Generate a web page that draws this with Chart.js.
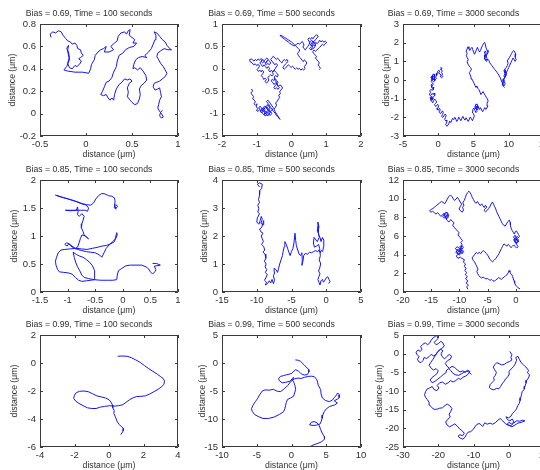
<!DOCTYPE html>
<html>
<head>
<meta charset="utf-8">
<script src="https://cdn.jsdelivr.net/npm/chart.js@4.4.1/dist/chart.umd.min.js"></script>
<style>
  body { margin: 0; background: #fff; width: 540px; height: 470px; overflow: hidden; position: relative; }
  canvas { position: absolute; }
</style>
</head>
<body>
<script>
// Panel titles: rows are bias, columns are time
const biases = [0.69, 0.85, 0.99];
const times = [100, 500, 3000];

// Tick labels for each panel (row by row)
const xTicks = [
  [-0.5, 0, 0.5, 1], [-2, -1, 0, 1, 2], [-5, 0, 5, 10, 15],
  [-1.5, -1, -0.5, 0, 0.5, 1], [-15, -10, -5, 0, 5], [-20, -15, -10, -5, 0, 5],
  [-4, -2, 0, 2, 4], [-10, -5, 0, 5, 10], [-30, -20, -10, 0, 10]
];
const yTicks = [
  [-0.2, 0, 0.2, 0.4, 0.6, 0.8], [-1.5, -1, -0.5, 0, 0.5, 1], [-3, -2, -1, 0, 1, 2, 3],
  [0, 0.5, 1, 1.5, 2], [0, 1, 2, 3, 4], [0, 2, 4, 6, 8, 10, 12],
  [-6, -4, -2, 0, 2], [-15, -10, -5, 0, 5], [-25, -20, -15, -10, -5, 0, 5]
];

// Walks, [x, y] in µm
const walk069_100 = [[-0.38,0.68],[-0.39,0.71],[-0.36,0.73],[-0.33,0.72],[-0.30,0.74],[-0.27,0.73],[-0.25,0.70],[-0.22,0.67],[-0.20,0.65],[-0.17,0.64],[-0.15,0.62],[-0.12,0.63],[-0.10,0.61],[-0.09,0.58],[-0.06,0.57],[-0.05,0.54],[-0.03,0.52],[-0.06,0.50],[-0.08,0.49],[-0.05,0.47],[-0.07,0.44],[-0.10,0.42],[-0.12,0.43],[-0.15,0.40],[-0.18,0.41],[-0.20,0.45],[-0.18,0.50],[-0.19,0.55],[-0.21,0.58],[-0.19,0.61],[-0.20,0.56],[-0.18,0.48],[-0.21,0.42],[-0.24,0.39],[-0.20,0.38],[-0.12,0.37],[-0.04,0.37],[0.03,0.36],[0.05,0.40],[0.06,0.44],[0.09,0.48],[0.10,0.52],[0.13,0.55],[0.16,0.57],[0.19,0.58],[0.22,0.60],[0.20,0.55],[0.25,0.55],[0.30,0.57],[0.27,0.60],[0.31,0.63],[0.34,0.65],[0.35,0.69],[0.38,0.72],[0.42,0.73],[0.44,0.71],[0.46,0.74],[0.48,0.75],[0.47,0.70],[0.50,0.68],[0.53,0.66],[0.51,0.63],[0.55,0.63],[0.52,0.60],[0.47,0.59],[0.43,0.57],[0.40,0.54],[0.36,0.52],[0.34,0.47],[0.33,0.42],[0.30,0.37],[0.28,0.32],[0.25,0.29],[0.22,0.28],[0.20,0.24],[0.18,0.20],[0.16,0.17],[0.19,0.16],[0.22,0.17],[0.24,0.14],[0.26,0.12],[0.28,0.14],[0.30,0.12],[0.31,0.17],[0.33,0.22],[0.36,0.26],[0.39,0.28],[0.42,0.31],[0.45,0.30],[0.48,0.31],[0.50,0.29],[0.47,0.27],[0.45,0.23],[0.46,0.19],[0.45,0.15],[0.48,0.12],[0.50,0.10],[0.53,0.08],[0.56,0.09],[0.58,0.13],[0.59,0.17],[0.58,0.22],[0.60,0.25],[0.63,0.27],[0.66,0.30],[0.65,0.34],[0.62,0.38],[0.59,0.41],[0.56,0.39],[0.53,0.41],[0.51,0.40],[0.52,0.44],[0.54,0.48],[0.57,0.50],[0.61,0.51],[0.66,0.50],[0.64,0.52],[0.68,0.55],[0.71,0.58],[0.73,0.62],[0.75,0.66],[0.76,0.70],[0.74,0.73],[0.77,0.72],[0.80,0.69],[0.83,0.66],[0.86,0.64],[0.88,0.61],[0.91,0.58],[0.93,0.57],[0.89,0.57],[0.85,0.58],[0.81,0.56],[0.78,0.54],[0.77,0.51],[0.79,0.48],[0.81,0.45],[0.84,0.42],[0.86,0.39],[0.88,0.36],[0.86,0.33],[0.83,0.31],[0.80,0.29],[0.77,0.28],[0.74,0.27],[0.73,0.24],[0.75,0.21],[0.78,0.22],[0.80,0.23],[0.81,0.19],[0.82,0.15],[0.80,0.12],[0.79,0.08],[0.78,0.05],[0.80,0.02],[0.82,0.00],[0.84,-0.03],[0.82,-0.04],[0.80,-0.02],[0.81,0.01],[0.83,0.03]];

const walk069_500 = [[-1.15,-0.45],[-1.12,-0.50],[-1.17,-0.54],[-1.13,-0.58],[-1.09,-0.62],[-1.12,-0.67],[-1.07,-0.70],[-1.04,-0.74],[-1.08,-0.78],[-1.03,-0.81],[-0.99,-0.78],[-1.01,-0.85],[-0.97,-0.89],[-1.01,-0.93],[-0.96,-0.95],[-0.92,-0.91],[-0.94,-0.86],[-0.89,-0.84],[-0.86,-0.89],[-0.90,-0.94],[-0.87,-0.98],[-0.82,-0.96],[-0.84,-0.91],[-0.80,-0.87],[-0.76,-0.90],[-0.79,-0.95],[-0.75,-0.99],[-0.79,-1.03],[-0.74,-1.05],[-0.70,-1.01],[-0.72,-0.96],[-0.67,-0.93],[-0.70,-0.88],[-0.74,-0.84],[-0.78,-0.88],[-0.82,-0.92],[-0.78,-0.97],[-0.73,-0.95],[-0.69,-0.99],[-0.65,-0.95],[-0.69,-0.91],[-0.73,-0.87],[-0.77,-0.83],[-0.81,-0.86],[-0.85,-0.90],[-0.88,-0.95],[-0.84,-0.99],[-0.80,-1.02],[-0.76,-0.98],[-0.72,-1.03],[-0.68,-1.05],[-0.64,-1.00],[-0.60,-0.97],[-0.63,-0.93],[-0.67,-0.89],[-0.71,-0.85],[-0.70,-0.80],[-0.65,-0.83],[-0.62,-0.88],[-0.66,-0.92],[-0.62,-0.97],[-0.66,-1.01],[-0.61,-1.04],[-0.57,-1.00],[-0.60,-0.95],[-0.56,-0.91],[-0.60,-0.86],[-0.64,-0.81],[-0.68,-0.77],[-0.72,-0.73],[-0.68,-0.70],[-0.64,-0.74],[-0.60,-0.78],[-0.56,-0.83],[-0.52,-0.87],[-0.55,-0.92],[-0.51,-0.96],[-0.47,-0.99],[-0.44,-1.04],[-0.40,-1.07],[-0.36,-1.10],[-0.33,-1.13],[-0.37,-1.08],[-0.42,-1.02],[-0.47,-0.96],[-0.50,-0.90],[-0.46,-0.86],[-0.43,-0.81],[-0.46,-0.76],[-0.41,-0.73],[-0.38,-0.68],[-0.34,-0.64],[-0.37,-0.59],[-0.32,-0.56],[-0.34,-0.51],[-0.30,-0.47],[-0.26,-0.43],[-0.29,-0.38],[-0.34,-0.36],[-0.38,-0.40],[-0.42,-0.35],[-0.46,-0.31],[-0.50,-0.35],[-0.54,-0.31],[-0.58,-0.27],[-0.55,-0.23],[-0.51,-0.26],[-0.47,-0.22],[-0.43,-0.26],[-0.39,-0.30],[-0.43,-0.34],[-0.47,-0.38],[-0.51,-0.42],[-0.47,-0.45],[-0.43,-0.42],[-0.39,-0.46],[-0.35,-0.42],[-0.39,-0.38],[-0.43,-0.30],[-0.47,-0.26],[-0.50,-0.18],[-0.45,-0.15],[-0.41,-0.18],[-0.38,-0.14],[-0.42,-0.10],[-0.46,-0.07],[-0.50,-0.03],[-0.54,-0.07],[-0.58,-0.03],[-0.62,-0.07],[-0.66,-0.03],[-0.63,0.01],[-0.67,0.05],[-0.71,0.01],[-0.75,0.05],[-0.79,0.09],[-0.83,0.05],[-0.87,0.09],[-0.91,0.13],[-0.87,0.17],[-0.83,0.21],[-0.79,0.18],[-0.75,0.21],[-0.71,0.24],[-0.67,0.21],[-0.71,0.17],[-0.75,0.10],[-0.72,0.09],[-0.68,0.12],[-0.64,0.09],[-0.60,0.13],[-0.63,0.17],[-0.67,0.20],[-0.71,0.16],[-0.75,0.13],[-0.79,0.17],[-0.83,0.13],[-0.87,0.16],[-0.84,0.20],[-0.88,0.23],[-0.92,0.19],[-0.96,0.22],[-1.00,0.18],[-1.04,0.21],[-1.08,0.17],[-1.12,0.20],[-1.16,0.22],[-1.21,0.20],[-1.18,0.15],[-1.13,0.13],[-1.09,0.09],[-1.04,0.11],[-1.00,0.07],[-0.96,0.10],[-0.92,0.06],[-0.95,0.02],[-0.99,-0.02],[-0.95,-0.06],[-0.91,-0.03],[-0.87,-0.07],[-0.84,-0.03],[-0.80,-0.07],[-0.83,-0.11],[-0.87,-0.15],[-0.83,-0.19],[-0.80,-0.24],[-0.76,-0.21],[-0.72,-0.24],[-0.76,-0.28],[-0.72,-0.32],[-0.68,-0.29],[-0.65,-0.25],[-0.68,-0.20],[-0.64,-0.16],[-0.60,-0.13],[-0.56,-0.16],[-0.52,-0.12],[-0.55,-0.08],[-0.51,-0.04],[-0.47,0.00],[-0.44,0.04],[-0.40,0.08],[-0.44,0.12],[-0.48,0.09],[-0.52,0.13],[-0.56,0.17],[-0.60,0.21],[-0.56,0.25],[-0.52,0.28],[-0.48,0.24],[-0.44,0.21],[-0.40,0.24],[-0.36,0.20],[-0.32,0.16],[-0.28,0.13],[-0.25,0.17],[-0.21,0.21],[-0.17,0.18],[-0.13,0.21],[-0.10,0.17],[-0.14,0.13],[-0.18,0.10],[-0.22,0.06],[-0.25,0.02],[-0.21,-0.01],[-0.17,0.02],[-0.13,0.05],[-0.09,0.09],[-0.05,0.06],[-0.01,0.03],[0.03,0.06],[0.07,0.02],[0.11,-0.01],[0.15,0.02],[0.19,-0.01],[0.23,0.01],[0.27,-0.03],[0.31,0.00],[0.35,-0.03],[0.39,0.01],[0.37,0.05],[0.41,0.09],[0.44,0.13],[0.41,0.17],[0.37,0.20],[0.34,0.16],[0.30,0.19],[0.27,0.23],[0.23,0.26],[0.20,0.30],[0.17,0.34],[0.21,0.38],[0.24,0.42],[0.20,0.45],[0.16,0.48],[0.12,0.51],[0.08,0.54],[0.04,0.57],[0.00,0.60],[-0.04,0.62],[-0.08,0.64],[-0.12,0.66],[-0.16,0.68],[-0.20,0.70],[-0.24,0.72],[-0.28,0.74],[-0.33,0.75],[-0.29,0.71],[-0.25,0.69],[-0.21,0.67],[-0.17,0.64],[-0.13,0.62],[-0.09,0.60],[-0.05,0.57],[-0.01,0.55],[0.03,0.53],[0.07,0.51],[0.11,0.53],[0.15,0.55],[0.19,0.57],[0.23,0.55],[0.27,0.58],[0.31,0.61],[0.34,0.57],[0.36,0.53],[0.33,0.49],[0.36,0.45],[0.40,0.42],[0.43,0.46],[0.47,0.50],[0.50,0.54],[0.53,0.58],[0.50,0.62],[0.47,0.66],[0.51,0.69],[0.55,0.66],[0.58,0.70],[0.62,0.67],[0.65,0.71],[0.69,0.74],[0.73,0.76],[0.77,0.73],[0.74,0.69],[0.70,0.66],[0.66,0.62],[0.62,0.59],[0.58,0.55],[0.62,0.52],[0.58,0.50],[0.55,0.54],[0.51,0.57],[0.54,0.61],[0.58,0.64],[0.61,0.60],[0.65,0.57],[0.62,0.54],[0.66,0.51],[0.69,0.55],[0.66,0.59],[0.62,0.62],[0.59,0.58],[0.55,0.55],[0.58,0.51],[0.62,0.48],[0.59,0.45],[0.55,0.48],[0.52,0.45],[0.56,0.42],[0.60,0.44],[0.63,0.45],[0.67,0.49],[0.70,0.53],[0.66,0.56],[0.70,0.59],[0.74,0.56],[0.78,0.60],[0.81,0.64],[0.85,0.60],[0.89,0.63],[0.93,0.59],[0.97,0.62],[1.01,0.59],[0.97,0.55],[0.93,0.52],[0.89,0.55],[0.85,0.51],[0.81,0.48],[0.77,0.45],[0.73,0.42],[0.69,0.39],[0.65,0.42],[0.61,0.38],[0.64,0.34],[0.68,0.31],[0.72,0.28],[0.69,0.24],[0.73,0.20],[0.77,0.17],[0.80,0.13],[0.77,0.09],[0.80,0.05],[0.83,0.01],[0.80,-0.02]];

const walk069_3000 = [[0.35,0.70],[0.50,0.62],[0.40,0.55],[0.58,0.48],[0.45,0.40],[0.62,0.32],[0.50,0.25],[0.66,0.18],[0.48,0.12],[0.30,0.18],[0.38,0.28],[0.20,0.32],[0.08,0.42],[0.22,0.48],[0.05,0.52],[-0.10,0.45],[-0.02,0.35],[-0.18,0.30],[-0.30,0.38],[-0.22,0.22],[-0.38,0.15],[-0.25,0.08],[-0.42,0.02],[-0.58,0.08],[-0.50,-0.05],[-0.68,-0.10],[-0.82,-0.02],[-0.95,0.08],[-1.05,0.15],[-0.90,0.22],[-0.78,0.15],[-0.65,0.22],[-0.52,0.15],[-0.62,0.05],[-0.75,0.00],[-0.88,0.10],[-0.75,0.28],[-0.60,0.32],[-0.48,0.25],[-0.55,0.12],[-0.70,0.08],[-0.82,0.18],[-0.88,0.02],[-1.00,-0.08],[-0.85,-0.15],[-0.70,-0.22],[-0.85,-0.30],[-1.00,-0.25],[-0.92,-0.40],[-0.75,-0.45],[-0.62,-0.38],[-0.70,-0.52],[-0.88,-0.55],[-1.05,-0.50],[-1.20,-0.58],[-1.08,-0.68],[-1.25,-0.75],[-1.12,-0.85],[-0.98,-0.80],[-0.85,-0.72],[-0.72,-0.78],[-0.60,-0.70],[-0.50,-0.82],[-0.65,-0.90],[-0.80,-0.95],[-0.95,-1.00],[-0.82,-1.05],[-0.70,-0.98],[-0.85,-0.90],[-1.00,-0.88],[-1.15,-0.95],[-1.05,-1.05],[-0.90,-1.10],[-0.78,-1.02],[-0.90,-0.95],[-1.02,-0.92],[-0.95,-1.00],[-1.08,-1.08],[-0.92,-1.15],[-0.78,-1.22],[-0.65,-1.10],[-0.50,-1.02],[-0.35,-1.10],[-0.22,-1.18],[-0.38,-1.25],[-0.52,-1.32],[-0.38,-1.42],[-0.22,-1.38],[-0.08,-1.30],[0.05,-1.38],[-0.05,-1.50],[-0.15,-1.58],[0.02,-1.62],[0.18,-1.52],[0.28,-1.60],[0.15,-1.70],[0.30,-1.80],[0.45,-1.75],[0.58,-1.65],[0.72,-1.72],[0.60,-1.85],[0.48,-1.95],[0.65,-2.00],[0.82,-1.92],[0.98,-1.82],[1.12,-1.90],[1.00,-2.02],[0.92,-2.12],[1.08,-2.20],[1.25,-2.15],[1.18,-2.30],[1.05,-2.38],[1.22,-2.48],[1.38,-2.42],[1.52,-2.32],[1.62,-2.20],[1.78,-2.28],[1.92,-2.15],[2.05,-2.05],[2.20,-2.12],[2.35,-2.00],[2.50,-2.10],[2.62,-2.22],[2.78,-2.12],[2.90,-1.98],[3.05,-2.08],[3.20,-2.18],[3.35,-2.05],[3.50,-1.95],[3.65,-2.08],[3.80,-2.15],[3.95,-2.02],[4.10,-2.12],[4.25,-2.22],[4.40,-2.10],[4.55,-1.98],[4.70,-2.08],[4.85,-2.18],[5.00,-2.05],[5.12,-1.92],[4.98,-1.80],[4.82,-1.72],[4.90,-1.58],[5.05,-1.50],[5.20,-1.62],[5.35,-1.75],[5.50,-1.68],[5.40,-1.52],[5.55,-1.60],[5.70,-1.50],[5.58,-1.38],[5.42,-1.45],[5.30,-1.55],[5.18,-1.45],[5.32,-1.35],[5.48,-1.28],[5.62,-1.40],[5.50,-1.52],[5.40,-1.52],[5.25,-1.40],[5.38,-1.28],[5.55,-1.35],[5.70,-1.45],[5.85,-1.58],[6.00,-1.48],[6.15,-1.62],[6.30,-1.70],[6.45,-1.58],[6.60,-1.48],[6.75,-1.58],[6.90,-1.50],[7.05,-1.38],[6.92,-1.25],[7.08,-1.12],[6.95,-1.00],[6.80,-0.92],[6.65,-0.82],[6.50,-0.72],[6.35,-0.62],[6.20,-0.70],[6.05,-0.78],[5.92,-0.65],[5.78,-0.52],[5.62,-0.45],[5.48,-0.32],[5.35,-0.40],[5.20,-0.28],[5.05,-0.15],[4.92,-0.05],[4.78,0.05],[4.65,0.15],[4.52,0.28],[4.42,0.40],[4.58,0.48],[4.72,0.58],[4.55,0.68],[4.38,0.75],[4.22,0.85],[4.10,0.98],[4.25,1.08],[4.12,1.20],[3.98,1.30],[4.10,1.42],[3.95,1.55],[4.08,1.65],[4.22,1.78],[4.35,1.68],[4.48,1.58],[4.62,1.68],[4.78,1.75],[4.90,1.62],[5.02,1.48],[5.15,1.38],[5.28,1.50],[5.42,1.62],[5.55,1.75],[5.70,1.62],[5.85,1.50],[6.00,1.58],[6.12,1.72],[6.28,1.85],[6.42,1.95],[6.58,2.02],[6.70,1.88],[6.78,1.72],[6.92,1.60],[7.05,1.48],[6.90,1.35],[6.75,1.25],[6.62,1.35],[6.50,1.25],[6.62,1.12],[6.78,1.05],[6.92,1.15],[6.80,1.28],[6.65,1.40],[6.52,1.50],[6.68,1.55],[6.82,1.42],[6.75,1.25],[6.60,1.18],[6.72,1.05],[6.88,1.00],[7.02,1.12],[7.18,1.05],[7.30,0.92],[7.45,0.85],[7.60,0.78],[7.75,0.70],[7.90,0.62],[8.05,0.55],[8.20,0.48],[8.35,0.40],[8.50,0.32],[8.65,0.22],[8.80,0.12],[8.92,0.00],[9.05,-0.12],[9.18,-0.25],[9.32,-0.32],[9.48,-0.22],[9.40,-0.08],[9.28,0.05],[9.42,0.15],[9.58,0.25],[9.45,0.38],[9.58,0.45],[9.70,0.35],[9.58,0.22],[9.45,0.12],[9.32,0.22],[9.45,0.32],[9.60,0.40],[9.52,0.55],[9.38,0.48],[9.45,0.38],[9.32,0.50],[9.48,0.60],[9.65,0.68],[9.80,0.78],[9.92,0.90],[9.80,1.02],[9.95,1.12],[10.10,1.20],[10.25,1.32],[10.40,1.42],[10.55,1.52],[10.70,1.58],[10.85,1.50],[11.00,1.38],[10.92,1.22],[11.05,1.08],[10.90,1.00],[10.75,1.10],[10.60,1.18],[10.45,1.05],[10.30,0.92],[10.15,0.80],[10.00,0.68],[9.85,0.55],[9.70,0.42],[9.58,0.30],[9.45,0.18],[9.32,0.05],[9.20,-0.10],[9.08,-0.25],[9.25,-0.35],[9.42,-0.40]];

const walk085_100 = [[-0.12,1.50],[-0.09,1.53],[-0.13,1.56],[-0.16,1.51],[-0.12,1.48],[-0.15,1.55],[-0.14,1.62],[-0.15,1.68],[-0.20,1.71],[-0.26,1.72],[-0.32,1.75],[-0.38,1.76],[-0.44,1.72],[-0.49,1.66],[-0.53,1.59],[-0.58,1.55],[-0.66,1.56],[-0.74,1.58],[-0.82,1.61],[-0.92,1.64],[-1.02,1.67],[-1.12,1.70],[-1.22,1.73],[-1.10,1.69],[-0.98,1.66],[-0.86,1.62],[-0.76,1.58],[-0.66,1.55],[-0.62,1.50],[-0.64,1.44],[-0.68,1.46],[-0.76,1.46],[-0.86,1.46],[-0.96,1.46],[-1.04,1.46],[-0.94,1.45],[-0.84,1.46],[-0.82,1.52],[-0.81,1.44],[-0.82,1.38],[-0.79,1.35],[-0.74,1.40],[-0.70,1.35],[-0.72,1.28],[-0.74,1.22],[-0.75,1.15],[-0.72,1.08],[-0.70,1.02],[-0.66,0.98],[-0.62,0.95],[-0.68,1.00],[-0.74,1.02],[-0.77,0.95],[-0.79,0.88],[-0.82,0.80],[-0.86,0.78],[-0.92,0.82],[-0.97,0.86],[-1.02,0.88],[-1.05,0.85],[-1.01,0.82],[-0.98,0.86],[-0.94,0.82],[-0.88,0.78],[-0.82,0.76],[-0.74,0.74],[-0.66,0.72],[-0.58,0.71],[-0.50,0.70],[-0.42,0.66],[-0.38,0.62],[-0.34,0.70],[-0.30,0.78],[-0.24,0.85],[-0.18,0.90],[-0.13,0.95],[-0.10,1.02],[-0.11,1.06],[-0.13,0.98],[-0.15,0.90],[-0.22,0.86],[-0.30,0.83],[-0.38,0.82],[-0.45,0.80],[-0.55,0.78],[-0.65,0.76],[-0.75,0.77],[-0.85,0.78],[-0.95,0.77],[-1.05,0.76],[-1.12,0.75],[-1.17,0.70],[-1.20,0.62],[-1.22,0.55],[-1.21,0.48],[-1.18,0.40],[-1.15,0.36],[-1.07,0.35],[-0.98,0.34],[-0.92,0.32],[-0.86,0.26],[-0.80,0.21],[-0.74,0.19],[-0.66,0.20],[-0.58,0.21],[-0.51,0.22],[-0.51,0.30],[-0.51,0.38],[-0.55,0.47],[-0.60,0.53],[-0.66,0.58],[-0.72,0.62],[-0.78,0.64],[-0.84,0.67],[-0.90,0.71],[-0.88,0.62],[-0.85,0.52],[-0.82,0.45],[-0.78,0.38],[-0.74,0.30],[-0.70,0.26],[-0.62,0.24],[-0.52,0.22],[-0.40,0.21],[-0.28,0.21],[-0.18,0.21],[-0.11,0.22],[-0.10,0.30],[-0.08,0.38],[-0.02,0.42],[0.06,0.47],[0.14,0.48],[0.24,0.48],[0.34,0.48],[0.42,0.45],[0.47,0.41],[0.50,0.36],[0.54,0.32],[0.58,0.36],[0.60,0.40],[0.57,0.46],[0.62,0.47],[0.68,0.48],[0.61,0.51],[0.54,0.51]];

const walk085_500 = [[-9.6,3.75],[-9.9,3.85],[-9.6,3.90],[-9.2,3.85],[-9.3,3.70],[-9.55,3.62],[-9.6,3.45],[-9.75,3.30],[-9.6,3.20],[-9.85,3.10],[-9.7,2.98],[-9.85,2.85],[-9.6,2.80],[-9.9,2.65],[-10.0,2.50],[-9.7,2.42],[-9.5,2.55],[-9.35,2.70],[-9.2,2.60],[-9.4,2.45],[-9.1,2.40],[-9.0,2.55],[-9.3,2.30],[-9.6,2.25],[-9.4,2.15],[-9.1,2.10],[-9.35,2.00],[-9.2,1.90],[-9.05,1.80],[-9.3,1.70],[-9.0,1.62],[-8.85,1.50],[-9.1,1.42],[-8.8,1.35],[-8.7,1.20],[-8.9,1.10],[-8.65,1.00],[-8.8,0.90],[-8.55,0.80],[-8.75,0.70],[-8.5,0.62],[-8.7,0.50],[-8.9,0.42],[-8.6,0.35],[-8.75,0.25],[-8.45,0.30],[-8.2,0.40],[-8.0,0.32],[-7.8,0.45],[-7.6,0.30],[-7.45,0.42],[-7.6,0.58],[-7.4,0.70],[-7.5,0.85],[-7.25,0.80],[-7.0,0.70],[-6.85,0.85],[-6.7,1.00],[-6.5,1.15],[-6.3,1.30],[-6.2,1.45],[-6.05,1.62],[-5.95,1.80],[-5.75,1.70],[-5.55,1.55],[-5.35,1.40],[-5.2,1.30],[-5.0,1.45],[-4.8,1.55],[-4.65,1.75],[-4.5,2.10],[-4.4,1.85],[-4.3,1.65],[-4.1,1.50],[-3.9,1.35],[-3.7,1.30],[-3.5,1.40],[-3.45,1.15],[-3.5,0.95],[-3.35,1.10],[-3.25,1.30],[-3.0,1.38],[-2.7,1.35],[-2.4,1.42],[-2.1,1.40],[-1.8,1.45],[-1.5,1.48],[-1.25,1.43],[-1.05,1.50],[-0.85,1.40],[-0.7,1.48],[-0.5,1.45],[-0.4,1.62],[-0.35,1.85],[-0.55,1.95],[-0.75,1.80],[-0.9,1.95],[-1.1,2.05],[-1.3,2.25],[-1.2,2.50],[-1.05,2.35],[-1.15,2.15],[-1.0,1.95],[-1.3,1.80],[-1.75,1.95],[-1.85,1.75],[-1.7,1.60],[-1.35,1.65],[-1.1,1.70],[-0.95,1.55],[-0.85,1.30],[-1.0,1.15],[-0.8,1.00],[-0.95,0.85],[-1.1,0.75],[-0.9,0.65],[-1.05,0.55],[-1.2,0.45],[-1.05,0.35],[-0.9,0.25],[-0.75,0.40],[-0.55,0.45],[-0.4,0.35],[-0.2,0.42],[0.0,0.50],[0.2,0.55],[0.4,0.45],[0.55,0.38],[0.35,0.30]];

const walk085_3000 = [[-8.5,0.30],[-8.7,0.55],[-8.4,0.75],[-8.8,0.95],[-8.5,1.20],[-8.9,1.40],[-8.6,1.65],[-8.95,1.85],[-8.7,2.10],[-9.05,2.30],[-8.8,2.55],[-9.15,2.75],[-8.9,3.00],[-9.3,3.20],[-9.1,3.45],[-9.55,3.60],[-9.85,3.75],[-10.25,3.60],[-10.55,3.85],[-10.25,4.05],[-10.65,4.25],[-10.35,4.45],[-10.75,4.65],[-10.40,4.85],[-10.05,4.70],[-9.75,4.50],[-9.45,4.30],[-9.75,4.10],[-10.05,3.95],[-10.35,4.20],[-10.05,4.40],[-10.30,4.60],[-10.50,4.40],[-10.30,4.15],[-10.05,4.05],[-9.85,4.25],[-10.10,4.50],[-9.85,4.70],[-9.60,4.45],[-9.85,4.20],[-10.05,4.40],[-9.70,4.65],[-9.95,4.85],[-9.55,5.00],[-9.30,4.80],[-9.55,4.55],[-9.25,4.35],[-9.50,4.10],[-9.80,4.30],[-9.55,5.10],[-9.75,5.30],[-9.45,5.50],[-9.70,5.70],[-9.95,5.90],[-10.25,6.10],[-10.05,6.35],[-10.35,6.55],[-10.65,6.75],[-10.95,6.95],[-11.20,7.15],[-10.95,7.40],[-11.25,7.60],[-11.55,7.75],[-11.85,7.50],[-12.15,7.65],[-12.40,7.85],[-12.15,8.05],[-11.85,8.20],[-12.10,8.40],[-12.40,8.55],[-12.70,8.35],[-12.95,8.10],[-12.65,7.90],[-12.40,8.15],[-12.15,8.30],[-11.95,8.05],[-12.20,7.85],[-12.45,7.95],[-12.65,8.20],[-12.45,8.40],[-12.20,8.55],[-12.00,8.35],[-12.25,8.10],[-12.50,8.05],[-12.70,8.45],[-13.00,8.25],[-13.30,8.10],[-13.55,8.30],[-13.85,8.50],[-14.15,8.35],[-14.45,8.50],[-14.75,8.65],[-15.05,8.55],[-15.30,8.70],[-15.00,8.85],[-14.70,8.95],[-14.40,9.10],[-14.10,9.25],[-13.80,9.40],[-13.50,9.55],[-13.20,9.70],[-12.90,9.60],[-12.60,9.45],[-12.35,9.70],[-12.15,9.95],[-11.90,10.20],[-11.60,10.40],[-11.35,10.25],[-11.10,10.00],[-10.85,9.80],[-10.60,9.95],[-10.35,10.15],[-10.10,9.90],[-9.85,9.65],[-9.60,9.40],[-9.85,9.15],[-10.05,8.90],[-9.80,8.70],[-9.50,8.55],[-9.25,8.80],[-9.45,9.05],[-9.20,9.30],[-9.40,9.55],[-9.15,9.80],[-8.95,10.10],[-8.80,10.40],[-8.55,10.65],[-8.30,10.80],[-8.05,10.60],[-7.85,10.35],[-7.70,10.10],[-7.50,9.90],[-7.30,9.65],[-7.05,9.50],[-6.80,9.70],[-6.55,9.45],[-6.30,9.25],[-6.05,9.45],[-5.85,9.25],[-5.60,9.05],[-5.40,9.30],[-5.15,9.10],[-5.40,8.90],[-5.65,8.75],[-5.35,8.60],[-5.05,8.75],[-4.80,8.95],[-4.55,9.20],[-4.35,9.45],[-4.15,9.65],[-3.95,9.40],[-3.75,9.15],[-3.55,8.90],[-3.40,8.60],[-3.20,8.35],[-3.00,8.10],[-2.80,7.85],[-2.60,7.60],[-2.40,7.35],[-2.15,7.15],[-1.90,7.05],[-1.65,7.30],[-1.40,7.55],[-1.15,7.70],[-1.00,7.45],[-0.95,7.15],[-0.85,6.85],[-0.65,6.60],[-0.45,6.40],[-0.25,6.20],[-0.10,6.45],[0.10,6.55],[0.30,6.35],[0.50,6.15],[0.65,5.95],[0.45,5.80],[0.25,5.95],[0.05,5.75],[0.30,5.55],[0.55,5.45],[0.35,5.30],[0.10,5.20],[-0.15,5.40],[-0.35,5.60],[-0.15,5.80],[0.05,6.00],[-0.20,6.05],[-0.40,5.85],[-0.20,5.70],[0.05,5.55],[0.25,5.75],[0.45,5.60],[0.25,5.40],[0.00,5.55],[-0.20,5.45],[-0.05,5.25],[0.20,5.30],[0.40,5.45],[0.20,5.65],[-0.05,5.75],[-0.30,5.55],[-0.05,5.35],[0.20,5.05],[0.40,4.85],[0.15,4.70],[-0.10,4.85],[-0.35,5.05],[-0.60,4.90],[-0.85,4.75],[-1.10,4.95],[-1.35,5.10],[-1.60,4.90],[-1.85,5.05],[-2.10,5.15],[-2.35,4.90],[-2.55,4.65],[-2.75,4.40],[-2.95,4.15],[-3.15,3.95],[-3.35,3.75],[-3.60,3.55],[-3.85,3.40],[-4.10,3.25],[-4.35,3.35],[-4.60,3.50],[-4.80,3.75],[-5.00,3.95],[-5.25,4.15],[-5.50,4.30],[-5.75,4.45],[-6.00,4.30],[-6.25,4.10],[-6.50,4.25],[-6.75,4.10],[-7.00,4.25],[-7.25,4.05],[-7.50,3.85],[-7.75,3.65],[-7.55,3.40],[-7.30,3.20],[-7.10,2.95],[-6.90,2.70],[-6.70,2.45],[-6.90,2.20],[-6.75,1.95],[-6.55,1.75],[-6.30,1.60],[-6.05,1.50],[-5.80,1.60],[-5.55,1.50],[-5.30,1.40],[-5.05,1.45],[-4.80,1.35],[-4.55,1.25],[-4.30,1.35],[-4.05,1.20],[-3.80,1.15],[-3.55,1.30],[-3.30,1.40],[-3.05,1.55],[-2.80,1.45],[-2.55,1.35],[-2.30,1.50],[-2.05,1.60],[-1.80,1.75],[-1.55,1.85],[-1.35,2.05],[-1.20,2.30],[-1.05,2.15],[-0.90,1.95],[-0.70,1.85],[-0.55,1.65],[-0.45,1.40],[-0.30,1.20],[-0.20,0.95],[-0.05,0.75],[0.15,0.60],[0.35,0.50],[0.55,0.40],[0.75,0.35]];

const walk099_100 = [[0.50,0.48],[0.75,0.50],[1.05,0.48],[1.30,0.38],[1.55,0.22],[1.80,0.05],[2.05,-0.18],[2.30,-0.40],[2.55,-0.60],[2.80,-0.80],[3.00,-0.98],[3.15,-1.12],[3.22,-1.30],[3.18,-1.52],[3.05,-1.70],[2.85,-1.88],[2.60,-2.05],[2.35,-2.22],[2.10,-2.35],[1.85,-2.38],[1.60,-2.40],[1.40,-2.48],[1.20,-2.62],[1.00,-2.80],[0.80,-2.98],[0.55,-3.05],[0.30,-3.08],[0.05,-3.05],[-0.25,-3.10],[-0.50,-3.15],[-0.75,-3.25],[-1.00,-3.25],[-1.25,-3.20],[-1.50,-3.05],[-1.75,-2.88],[-1.95,-2.70],[-2.05,-2.52],[-2.00,-2.30],[-1.90,-2.12],[-1.70,-2.02],[-1.45,-2.00],[-1.20,-2.05],[-0.95,-2.20],[-0.70,-2.35],[-0.45,-2.42],[-0.20,-2.50],[0.00,-2.62],[0.12,-2.80],[0.20,-3.00],[0.22,-3.20],[0.30,-3.40],[0.28,-3.60],[0.35,-3.80],[0.42,-4.00],[0.48,-4.20],[0.60,-4.40],[0.72,-4.55],[0.85,-4.68],[0.82,-4.85],[0.75,-5.00],[0.68,-5.12]];

const walk099_500 = [[0.55,0.55],[0.95,0.50],[1.30,0.30],[1.55,0.00],[1.80,-0.30],[2.10,-0.70],[2.45,-1.15],[2.50,-1.60],[2.30,-2.05],[1.90,-2.15],[1.55,-2.05],[1.25,-1.75],[1.00,-1.45],[0.60,-1.20],[0.25,-1.55],[0.05,-1.85],[-0.35,-2.00],[-0.70,-2.10],[-1.15,-2.25],[-1.60,-2.40],[-1.85,-2.75],[-1.75,-3.15],[-1.35,-3.55],[-0.85,-3.45],[-0.20,-3.25],[0.10,-2.80],[0.30,-2.55],[0.15,-3.05],[0.35,-3.50],[0.50,-4.05],[0.60,-4.70],[0.45,-5.35],[0.30,-5.95],[-0.15,-6.25],[-0.60,-6.55],[-0.75,-7.05],[-0.85,-7.55],[-0.95,-8.15],[-1.15,-8.70],[-1.70,-9.15],[-2.50,-9.65],[-3.30,-9.90],[-4.10,-9.90],[-4.80,-9.55],[-5.30,-9.20],[-5.65,-8.65],[-5.75,-8.15],[-5.55,-7.55],[-5.20,-6.90],[-4.85,-6.30],[-4.60,-5.70],[-4.20,-5.00],[-3.80,-4.80],[-3.20,-4.85],[-2.60,-4.70],[-2.05,-5.05],[-1.55,-5.10],[-1.05,-4.60],[-0.55,-4.05],[-0.10,-3.30],[0.40,-2.85],[0.90,-2.70],[1.40,-2.75],[1.90,-2.55],[2.40,-2.40],[2.90,-2.35],[3.30,-2.45],[3.60,-2.90],[3.75,-3.40],[3.85,-4.00],[4.20,-4.75],[4.25,-5.50],[4.45,-6.25],[4.90,-6.70],[5.45,-6.90],[5.90,-6.60],[6.15,-6.20],[6.45,-5.75],[6.65,-5.35],[6.90,-5.70],[6.85,-6.20],[6.60,-6.45],[6.15,-6.75],[6.60,-7.15],[6.20,-7.50],[5.50,-7.75],[5.00,-8.20],[4.70,-8.70],[4.50,-9.30],[4.40,-9.90],[4.25,-10.50],[4.10,-10.90],[3.60,-11.10],[3.10,-11.15],[2.60,-11.05],[2.85,-10.60],[3.25,-10.45],[3.70,-10.70],[4.00,-11.20],[4.20,-11.90],[4.40,-12.50],[4.70,-13.10],[4.75,-13.60],[4.35,-14.05],[3.80,-14.35],[3.20,-14.60],[2.80,-14.85],[2.50,-15.00]];

const walk099_3000 = [[0.3,0.6],[0.9,-0.3],[0.6,-1.0],[0.9,-1.7],[0.2,-2.1],[-0.6,-2.4],[-1.3,-2.9],[-2.0,-3.0],[-2.7,-2.7],[-3.4,-2.4],[-3.9,-2.9],[-4.4,-3.6],[-4.0,-4.3],[-3.5,-5.0],[-3.8,-5.8],[-4.3,-6.4],[-4.1,-7.1],[-4.7,-7.7],[-5.3,-8.3],[-5.5,-9.1],[-4.9,-9.5],[-4.2,-9.7],[-3.5,-9.3],[-2.8,-9.4],[-2.3,-8.8],[-1.9,-8.1],[-1.4,-7.5],[-0.9,-6.8],[-0.3,-6.2],[0.2,-5.4],[0.1,-4.7],[0.7,-4.1],[1.3,-3.5],[1.8,-2.8],[2.2,-1.8],[2.0,-1.0],[2.6,-0.7],[3.0,-1.5],[3.5,-2.4],[4.1,-2.9],[4.6,-3.4],[5.2,-3.9],[5.6,-4.5],[5.3,-5.1],[5.9,-5.7],[5.6,-6.5],[5.1,-7.1],[4.9,-7.9],[4.6,-8.7],[4.4,-9.5],[3.8,-10.2],[3.6,-11.0],[3.4,-11.8],[3.2,-12.6],[3.0,-13.3],[2.5,-14.0],[2.2,-14.8],[1.6,-15.5],[1.0,-16.1],[0.6,-16.8],[-0.1,-17.2],[-0.8,-16.9],[-0.4,-17.6],[0.3,-18.0],[1.0,-17.5],[1.5,-18.3],[0.8,-18.8],[0.0,-18.4],[-0.5,-19.0],[0.6,-19.3],[1.4,-18.6],[2.2,-18.0],[3.1,-18.1],[4.0,-17.8],[4.6,-18.0],[3.6,-18.4],[2.6,-18.6],[1.8,-19.1],[0.9,-19.6],[0.0,-19.2],[-0.9,-18.8],[-1.7,-18.0],[-2.4,-17.4],[-3.1,-17.8],[-3.8,-18.5],[-4.6,-18.9],[-5.3,-18.6],[-6.1,-18.9],[-6.8,-18.5],[-7.4,-19.5],[-7.9,-19.0],[-8.4,-18.7],[-9.1,-19.0],[-9.6,-19.6],[-10.1,-20.3],[-10.8,-20.9],[-11.5,-21.0],[-12.0,-21.6],[-12.4,-22.4],[-13.0,-22.9],[-13.8,-22.6],[-14.4,-22.1],[-13.8,-21.7],[-13.1,-22.0],[-12.6,-21.3],[-13.3,-20.6],[-14.0,-20.1],[-14.6,-19.4],[-15.3,-18.8],[-16.0,-19.2],[-16.8,-19.6],[-17.5,-19.1],[-17.9,-18.3],[-17.3,-17.6],[-16.6,-17.0],[-16.9,-16.2],[-16.4,-15.4],[-16.1,-14.7],[-16.7,-14.0],[-17.4,-13.5],[-18.1,-13.9],[-18.8,-14.5],[-19.6,-14.6],[-20.4,-14.9],[-21.2,-14.9],[-21.9,-14.4],[-22.4,-13.8],[-22.6,-13.0],[-23.1,-12.3],[-23.6,-11.7],[-23.9,-11.0],[-23.6,-10.2],[-23.2,-9.5],[-22.5,-9.2],[-21.7,-8.8],[-21.2,-9.6],[-20.4,-9.9],[-19.8,-9.2],[-20.3,-8.5],[-19.6,-7.8],[-18.8,-7.6],[-18.0,-8.2],[-17.2,-7.8],[-16.5,-7.2],[-15.8,-7.6],[-15.0,-7.2],[-14.3,-6.6],[-13.6,-6.9],[-13.0,-6.3],[-12.2,-6.0],[-11.4,-5.4],[-11.0,-4.8],[-11.7,-4.4],[-12.3,-5.0],[-13.0,-4.6],[-13.8,-4.9],[-14.6,-4.4],[-15.3,-3.7],[-16.1,-3.4],[-16.8,-3.9],[-17.5,-3.4],[-18.0,-2.6],[-17.3,-1.8],[-16.6,-1.5],[-16.2,-0.7],[-16.9,-0.2],[-17.6,-0.8],[-18.2,-1.4],[-18.9,-0.8],[-19.2,0.0],[-18.7,0.8],[-19.4,1.2],[-20.1,0.6],[-20.6,-0.2],[-21.3,-0.6],[-22.0,-0.2],[-22.6,-0.8],[-23.3,-1.3],[-24.0,-1.0],[-24.3,-1.8],[-24.9,-2.4],[-25.5,-2.2],[-25.9,-1.5],[-25.4,-0.8],[-26.0,-0.3],[-26.3,0.4],[-25.7,1.0],[-25.1,0.6],[-24.6,1.2],[-25.0,1.9],[-24.4,2.5],[-23.7,2.9],[-23.0,2.4],[-22.4,2.9],[-22.0,3.6],[-21.5,4.2],[-20.9,4.6],[-20.4,4.9],[-20.1,4.1],[-20.6,3.5],[-21.2,3.0],[-20.6,2.4],[-19.9,2.7],[-19.3,3.3],[-18.7,2.9],[-18.3,2.1],[-18.8,1.5],[-19.6,1.0],[-20.3,0.3],[-20.9,-0.6],[-21.5,-1.5],[-22.1,-2.3],[-22.6,-3.1],[-22.0,-3.9],[-21.3,-4.4],[-20.6,-4.0],[-20.0,-4.6],[-20.4,-5.4],[-21.1,-5.9],[-21.8,-6.4],[-22.3,-7.1],[-21.7,-7.8],[-20.9,-7.4],[-20.1,-6.8],[-19.3,-6.2],[-18.6,-5.6],[-17.9,-5.2],[-17.6,-4.4],[-17.0,-4.0],[-16.4,-4.6],[-15.8,-5.3],[-15.0,-5.7],[-14.2,-5.8],[-13.4,-5.4],[-12.7,-5.0],[-11.9,-4.7],[-11.2,-5.0],[-10.6,-5.6]];

const walks = [walk069_100, walk069_500, walk069_3000,
               walk085_100, walk085_500, walk085_3000,
               walk099_100, walk099_500, walk099_3000];

// Layout of the 3x3 grid (plot box positions in the page)
const plotLeft = [40, 222, 403];
const plotTop = [24, 180, 335];
const plotWidth = [138, 139, 141];
const yTitleGap = [27, 0, 16, 25, 17, 20, 25, 19, 23];

const FONT = 'Helvetica, "Liberation Sans", Arial, sans-serif';
const TEXT = '#303030';

// Matlab-style box with inward tick marks
const boxPlugin = {
  id: 'box',
  afterDraw(chart) {
    const { ctx, chartArea: a, scales: { x, y } } = chart;
    ctx.save();
    ctx.strokeStyle = '#3a3a3a';
    ctx.lineWidth = 1;
    ctx.beginPath();
    ctx.rect(a.left + 0.5, a.top + 0.5, a.right - a.left - 1, a.bottom - a.top - 1);
    x.ticks.forEach(t => {
      const px = Math.round(x.getPixelForValue(t.value)) + 0.5;
      ctx.moveTo(px, a.bottom); ctx.lineTo(px, a.bottom - 3);
      ctx.moveTo(px, a.top); ctx.lineTo(px, a.top + 3);
    });
    y.ticks.forEach(t => {
      const py = Math.round(y.getPixelForValue(t.value)) + 0.5;
      ctx.moveTo(a.left, py); ctx.lineTo(a.left + 3, py);
      ctx.moveTo(a.right, py); ctx.lineTo(a.right - 3, py);
    });
    ctx.stroke();
    ctx.restore();
  }
};

walks.forEach((walk, i) => {
  const row = Math.floor(i / 3), col = i % 3;
  const w = 40 + plotWidth[col] + 10, h = 160;
  const cv = document.createElement('canvas');
  cv.width = w; cv.height = h;
  cv.style.left = (plotLeft[col] - 40) + 'px';
  cv.style.top = (plotTop[row] - 24) + 'px';
  cv.style.width = w + 'px'; cv.style.height = h + 'px';
  document.body.appendChild(cv);

  const xt = xTicks[i], yt = yTicks[i];
  const tickFont = { family: FONT, size: 9.5 };
  const labelFont = { family: FONT, size: 8.7 };

  new Chart(cv, {
    type: 'scatter',
    data: {
      datasets: [{
        data: walk.map(p => ({ x: p[0], y: p[1] })),
        showLine: true,
        borderColor: 'rgb(20,20,250)',
        borderWidth: 1,
        pointRadius: 0,
        tension: 0
      }]
    },
    options: {
      responsive: false,
      animation: false,
      events: [],
      layout: { padding: { left: 0, right: 10, top: 0, bottom: 0 } },
      plugins: {
        legend: { display: false },
        tooltip: { enabled: false },
        title: {
          display: true,
          text: `Bias = ${biases[row]}, Time = ${times[col]} seconds`,
          color: TEXT,
          font: { family: FONT, size: 8.7, weight: 'normal', lineHeight: 1 },
          padding: { top: 9.5, bottom: 5.8 }
        }
      },
      scales: {
        x: {
          type: 'linear',
          min: xt[0], max: xt[xt.length - 1],
          afterBuildTicks: s => { s.ticks = xt.map(v => ({ value: v })); },
          afterFit: s => { s.height = 24; },
          grid: { display: false, drawTicks: false },
          border: { display: false },
          ticks: { color: TEXT, font: tickFont, padding: 3, maxRotation: 0, autoSkip: false, callback: v => String(v) },
          title: { display: true, text: 'distance (μm)', color: TEXT, font: labelFont, padding: { top: 0, bottom: 0 } }
        },
        y: {
          type: 'linear',
          min: yt[0], max: yt[yt.length - 1],
          afterBuildTicks: s => { s.ticks = yt.map(v => ({ value: v })); },
          afterFit: s => { s.width = 40; },
          grid: { display: false, drawTicks: false },
          border: { display: false },
          ticks: { color: TEXT, font: tickFont, padding: 4, autoSkip: false, callback: v => String(v) },
          title: {
            display: i !== 1,
            text: 'distance (μm)',
            color: TEXT,
            font: labelFont,
            padding: { top: Math.max(0, 40 - yTitleGap[i] - 5.2), bottom: 0 }
          }
        }
      }
    },
    plugins: [boxPlugin]
  });
});
</script>
</body>
</html>
